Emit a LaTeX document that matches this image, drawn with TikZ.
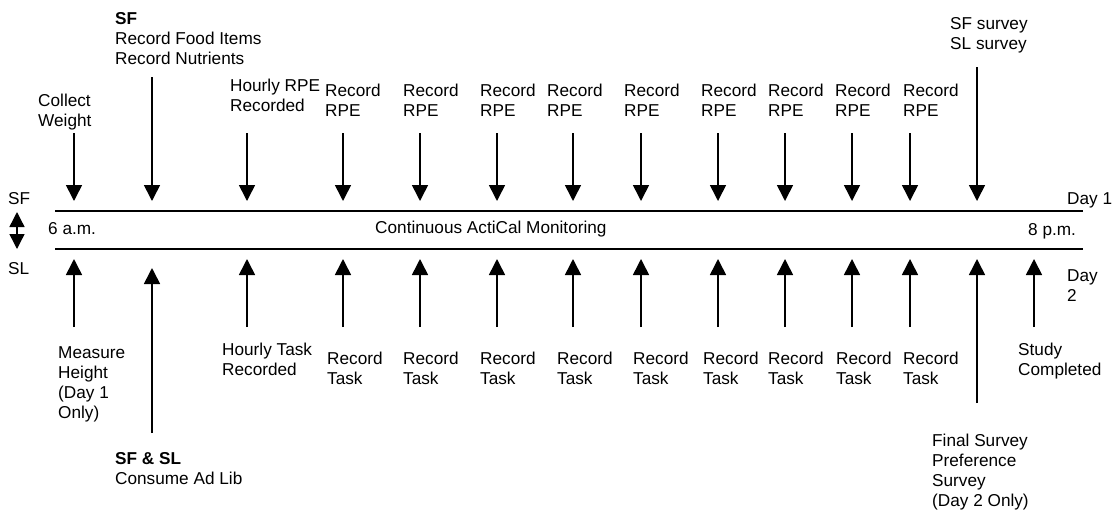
\documentclass[tikz,border=0pt]{standalone}
\usepackage{fontspec}
\setmainfont{Liberation Sans}
\usetikzlibrary{arrows.meta}
\begin{document}
\begin{tikzpicture}[x=1pt,y=-1pt,
  lbl/.style={anchor=north west,inner sep=0pt,align=left,font=\fontsize{17.2}{20}\selectfont},
  arr/.style={line width=1.6pt,-{Triangle[width=16pt,length=16pt]}},
  tline/.style={line width=1.6pt}]
\useasboundingbox (0,0) rectangle (1118,512);
% timeline
\coordinate (l1s) at (55,211); \coordinate (l1e) at (1083,211);
\coordinate (l2s) at (55,249); \coordinate (l2e) at (1083,249);
\draw[tline] (l1s) -- (l1e);
\draw[tline] (l2s) -- (l2e);
% top arrows
\foreach \x/\s [count=\i] in {74/133,152/77,247/133,343/133,420/133,497/133,573/133,641/133,718/133,785/133,852/133,910/133,977/67}{
  \coordinate (ts\i) at (\x,\s); \coordinate (te\i) at (\x,201);
  \draw[arr] (ts\i) -- (te\i);
}
% bottom arrows
\foreach \x/\s/\e [count=\i] in {74/327/259,152/433/268,247/327/259,343/327/259,420/327/259,497/327/259,573/327/259,641/327/259,718/327/259,785/327/259,852/327/259,910/327/259,977/403/259,1034/327/259}{
  \coordinate (bs\i) at (\x,\s); \coordinate (be\i) at (\x,\e);
  \draw[arr] (bs\i) -- (be\i);
}
% double arrow
\coordinate (da1) at (17,212); \coordinate (da2) at (17,249);
\draw[line width=1.4pt,{Triangle[width=15pt,length=15pt]}-{Triangle[width=15pt,length=15pt]}] (da1) -- (da2);
% top labels
\node[lbl] (cw) at (38,94) {Collect\\Weight};
\node[lbl] (sf) at (115,12) {\textbf{SF}\\Record Food Items\\Record Nutrients};
\node[lbl] (hr) at (230,79) {Hourly RPE\\Recorded};
\foreach \x [count=\i] in {325,403,480,547,624,701,768,835,903}{
  \node[lbl] (rr\i) at (\x,84) {Record\\RPE};
}
\node[lbl] (svy) at (950,17) {SF survey\\SL survey};
\node[lbl] (d1) at (1067,192) {Day 1};
% middle labels
\node[lbl] (sfl) at (8,192) {SF};
\node[lbl] (sll) at (8,262) {SL};
\node[lbl] (am) at (48,222) {6 a.m.};
\node[lbl] (cam) at (375,221) {Continuous ActiCal Monitoring};
\node[lbl] (pm) at (1028,223) {8 p.m.};
% bottom labels
\node[lbl] (mh) at (58,346) {Measure\\Height\\(Day 1\\Only)};
\node[lbl] (ht) at (222,343) {Hourly Task\\Recorded};
\foreach \x [count=\i] in {327,403,480,557,633,703,768,836,903}{
  \node[lbl] (rt\i) at (\x,352) {Record\\Task};
}
\node[lbl] (sc) at (1018,343) {Study\\Completed};
\node[lbl] (fs) at (932,434) {Final Survey\\Preference\\Survey\\(Day 2 Only)};
\node[lbl] (d2) at (1067,269) {Day\\2};
\node[lbl] (sfsl) at (115,452) {\textbf{SF \& SL}\\Consume Ad Lib};
\end{tikzpicture}
\end{document}
